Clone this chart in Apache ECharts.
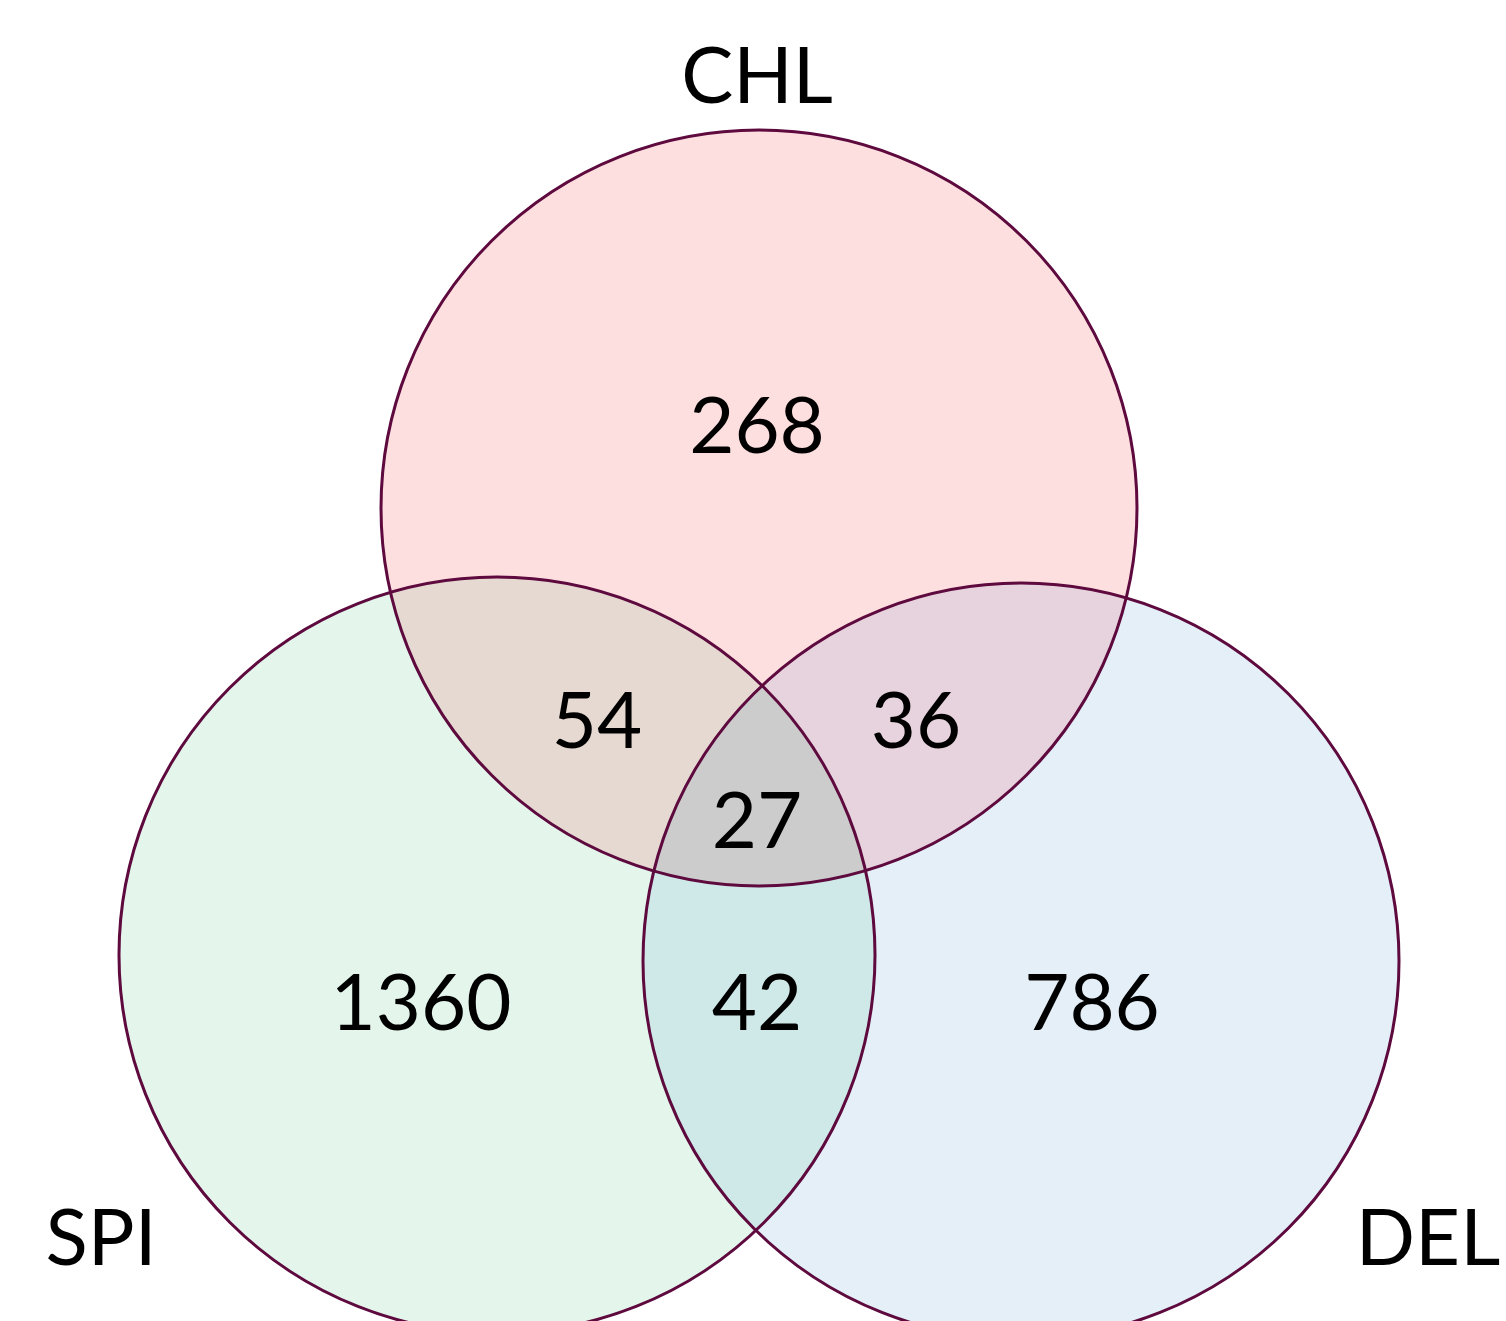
<!DOCTYPE html>
<html>
<head>
<meta charset="utf-8">
<script src="https://cdn.jsdelivr.net/npm/echarts@6/dist/echarts.min.js"></script>
<style>
  html, body { margin: 0; padding: 0; background: #fff; }
  #container { width: 1506px; height: 1321px; }
</style>
</head>
<body>
<div id="container"></div>
<script>
var dom = document.getElementById("container");
var myChart = echarts.init(dom);

// sets: name, circle centre (x, y) and radius in chart units
var setNames = ['CHL', 'SPI', 'DEL'];
var setCenters = [[759, 508], [497, 955], [1021, 961]];
var setRadius = [378, 378, 378];

// regions: which sets they belong to, fill colour, count, label spot
var regionSets = [[0], [1], [2], [0, 1], [0, 2], [1, 2], [0, 1, 2]];
var regionColors = ['#fddfdf', '#e4f5ec', '#e4eff8', '#e5d9d1', '#e7d3dd', '#cfe8e8', '#cccccc'];
var regionCounts = [268, 1360, 786, 54, 36, 42, 27];
var regionPos = [[757, 428], [421, 1005], [1092, 1005], [597, 723], [916, 723], [757, 1005], [757, 823]];
var namePos = [[757, 78], [101, 1240], [1428, 1240]];

var FONT = '78px Lato, "Open Sans", sans-serif';

// polygon of the area common to all circles in `sets` (convex), in pixels
function regionPoints(sets, api) {
  var circles = sets.map(k => {
    var c = api.coord(setCenters[k]);
    return { x: c[0], y: c[1], r: api.size([setRadius[k], 0])[0] };
  });
  var pts = [];
  var N = 1440;
  circles.forEach((c, i) => {
    for (var s = 0; s < N; s++) {
      var a = s / N * Math.PI * 2;
      var px = c.x + c.r * Math.cos(a), py = c.y + c.r * Math.sin(a);
      var inside = circles.every((o, j) => j === i ||
        (px - o.x) * (px - o.x) + (py - o.y) * (py - o.y) <= o.r * o.r);
      if (inside) pts.push([px, py]);
    }
  });
  var mx = 0, my = 0;
  pts.forEach(p => { mx += p[0]; my += p[1]; });
  mx /= pts.length; my /= pts.length;
  pts.sort((p, q) => Math.atan2(p[1] - my, p[0] - mx) - Math.atan2(q[1] - my, q[0] - mx));
  return pts;
}

var option = {
  animation: false,
  grid: { left: 0, right: 0, top: 0, bottom: 0 },
  xAxis: { type: 'value', min: 0, max: 1506, show: false },
  yAxis: { type: 'value', min: 0, max: 1321, inverse: true, show: false },
  series: [
    {
      // filled regions
      type: 'custom',
      z: 1,
      data: regionSets.map((s, i) => [i]),
      renderItem: (params, api) => {
        var i = api.value(0);
        return {
          type: 'polygon',
          shape: { points: regionPoints(regionSets[i], api) },
          style: { fill: regionColors[i] }
        };
      }
    },
    {
      // circle outlines
      type: 'custom',
      z: 2,
      data: setCenters.map((c, i) => [c[0], c[1], setRadius[i]]),
      renderItem: (params, api) => {
        var p = api.coord([api.value(0), api.value(1)]);
        return {
          type: 'circle',
          shape: { cx: p[0], cy: p[1], r: api.size([api.value(2), 0])[0] },
          style: { fill: 'none', stroke: '#5e0a3e', lineWidth: 3 }
        };
      }
    },
    {
      // counts and set names
      type: 'custom',
      z: 3,
      data: regionCounts.map((v, i) => [regionPos[i][0], regionPos[i][1]])
        .concat(setNames.map((n, i) => [namePos[i][0], namePos[i][1]])),
      renderItem: (params, api) => {
        var p = api.coord([api.value(0), api.value(1)]);
        var item = params.dataIndex < regionCounts.length
          ? String(regionCounts[params.dataIndex])
          : setNames[params.dataIndex - regionCounts.length];
        return {
          type: 'text',
          x: p[0],
          y: p[1],
          style: {
            text: item,
            fill: '#000',
            font: FONT,
            align: 'center',
            verticalAlign: 'middle'
          }
        };
      }
    }
  ]
};

if (option && typeof option === 'object') {
  myChart.setOption(option);
}
</script>
</body>
</html>
